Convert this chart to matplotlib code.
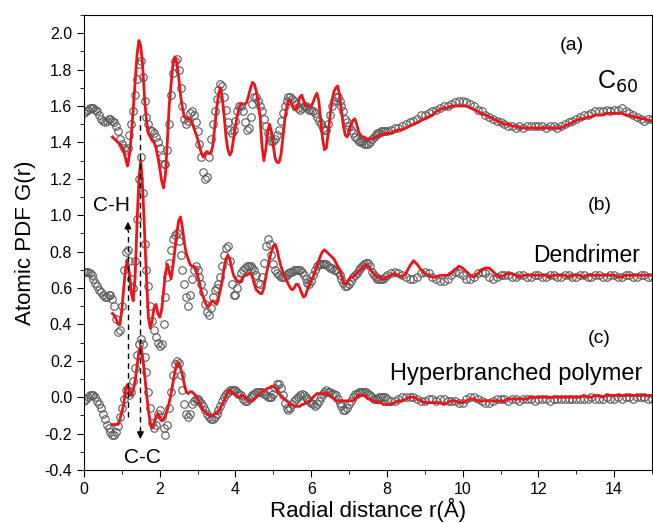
import numpy as np
import matplotlib
matplotlib.use('Agg')
import matplotlib.pyplot as plt
from matplotlib.ticker import MultipleLocator, FormatStrFormatter

plt.rcParams['font.family'] = ['Liberation Sans', 'DejaVu Sans']
plt.rcParams['axes.unicode_minus'] = False

# r grid: 0.05 A steps up to 8 A, 0.1 A steps after
r_fine = np.round(np.arange(0, 8, 0.05), 2)
r_coarse = np.round(np.arange(8, 15.01, 0.1), 1)
r = np.concatenate([r_fine, r_coarse])
r_fit = r[15:]  # fits start at r = 0.75 A

# (a) C60 - experiment
c60_exp = [
    1.56, 1.57, 1.58, 1.59, 1.59, 1.59, 1.58, 1.57, 1.55, 1.53,
    1.52, 1.51, 1.52, 1.53, 1.53, 1.52, 1.51, 1.49, 1.46, 1.42,
    1.39, 1.37, 1.36, 1.37, 1.44, 1.50, 1.57, 1.66, 1.75, 1.83,
    1.85, 1.76, 1.63, 1.54, 1.50, 1.47, 1.46, 1.45, 1.43, 1.40,
    1.37, 1.32, 1.28, 1.28, 1.36, 1.50, 1.66, 1.78, 1.85, 1.86,
    1.80, 1.70, 1.60, 1.53, 1.50, 1.52, 1.56, 1.57, 1.55, 1.51,
    1.46, 1.39, 1.32, 1.24, 1.20, 1.21, 1.32, 1.42, 1.50, 1.57,
    1.64, 1.69, 1.72, 1.71, 1.65, 1.58, 1.51, 1.47, 1.45, 1.47,
    1.52, 1.57, 1.60, 1.60, 1.57, 1.51, 1.47, 1.48, 1.54, 1.61,
    1.65, 1.65, 1.63, 1.60, 1.57, 1.53, 1.49, 1.45, 1.43, 1.41,
    1.41, 1.42, 1.44, 1.47, 1.52, 1.56, 1.60, 1.63, 1.65, 1.65,
    1.64, 1.63, 1.61, 1.59, 1.58, 1.59, 1.60, 1.60, 1.59, 1.58,
    1.58, 1.57, 1.56, 1.54, 1.52, 1.50, 1.48, 1.47, 1.47, 1.50,
    1.55, 1.60, 1.63, 1.65, 1.65, 1.63, 1.60, 1.57, 1.53, 1.51,
    1.49, 1.47, 1.45, 1.43, 1.42, 1.41, 1.40, 1.40, 1.39, 1.39,
    1.39, 1.40, 1.42, 1.43, 1.44, 1.45, 1.45, 1.46, 1.46, 1.46,
    1.46, 1.47, 1.48, 1.48, 1.49, 1.50, 1.51, 1.52, 1.53, 1.55,
    1.55, 1.56, 1.57, 1.58, 1.59, 1.60, 1.60, 1.61, 1.62, 1.63,
    1.63, 1.62, 1.61, 1.60, 1.58, 1.57, 1.55, 1.54, 1.53, 1.52,
    1.51, 1.50, 1.49, 1.49, 1.48, 1.49, 1.48, 1.49, 1.49, 1.49,
    1.49, 1.49, 1.48, 1.49, 1.49, 1.48, 1.49, 1.50, 1.51, 1.52,
    1.53, 1.54, 1.55, 1.55, 1.56, 1.57, 1.57, 1.57, 1.58, 1.57,
    1.58, 1.58, 1.59, 1.57, 1.56, 1.55, 1.54, 1.53, 1.52, 1.53,
    1.53,
]

# (a) C60 - model
c60_fit = [
    1.43, 1.42, 1.41, 1.40, 1.39,
    1.38, 1.35, 1.31, 1.27, 1.33, 1.44, 1.58, 1.73, 1.88, 1.96,
    1.93, 1.82, 1.64, 1.52, 1.45, 1.43, 1.41, 1.40, 1.37, 1.32,
    1.26, 1.19, 1.15, 1.22, 1.40, 1.60, 1.72, 1.83, 1.87, 1.84,
    1.76, 1.66, 1.59, 1.54, 1.53, 1.53, 1.53, 1.51, 1.48, 1.45,
    1.42, 1.38, 1.34, 1.32, 1.34, 1.35, 1.34, 1.34, 1.38, 1.48,
    1.58, 1.66, 1.70, 1.65, 1.55, 1.43, 1.36, 1.33, 1.35, 1.42,
    1.49, 1.55, 1.59, 1.61, 1.61, 1.61, 1.62, 1.66, 1.70, 1.73,
    1.72, 1.68, 1.62, 1.54, 1.38, 1.30, 1.36, 1.46, 1.50, 1.46,
    1.38, 1.31, 1.29, 1.29, 1.33, 1.42, 1.52, 1.59, 1.63, 1.63,
    1.60, 1.58, 1.58, 1.61, 1.65, 1.66, 1.63, 1.60, 1.60, 1.60,
    1.60, 1.62, 1.65, 1.67, 1.63, 1.52, 1.42, 1.36, 1.37, 1.45,
    1.55, 1.63, 1.68, 1.70, 1.71, 1.66, 1.57, 1.49, 1.44, 1.43,
    1.46, 1.50, 1.52, 1.53, 1.50, 1.46, 1.44, 1.43, 1.43, 1.42,
    1.42, 1.42, 1.42, 1.42, 1.43, 1.43, 1.44, 1.44, 1.44, 1.45,
    1.45, 1.45, 1.46, 1.47, 1.47, 1.48, 1.49, 1.50, 1.51, 1.52,
    1.53, 1.54, 1.55, 1.57, 1.58, 1.59, 1.59, 1.60, 1.60, 1.60,
    1.60, 1.60, 1.59, 1.58, 1.57, 1.56, 1.55, 1.54, 1.53, 1.52,
    1.51, 1.50, 1.50, 1.49, 1.49, 1.48, 1.48, 1.48, 1.48, 1.48,
    1.48, 1.48, 1.48, 1.48, 1.48, 1.48, 1.48, 1.49, 1.50, 1.51,
    1.52, 1.53, 1.53, 1.54, 1.54, 1.55, 1.55, 1.55, 1.56, 1.56,
    1.56, 1.56, 1.56, 1.55, 1.55, 1.54, 1.54, 1.53, 1.53, 1.52,
    1.52,
]

# (b) Dendrimer - experiment
dend_exp = [
    0.69, 0.69, 0.69, 0.68, 0.67, 0.65, 0.63, 0.61, 0.59, 0.58,
    0.56, 0.55, 0.55, 0.56, 0.56, 0.54, 0.50, 0.43, 0.36, 0.37,
    0.50, 0.70, 0.80, 0.81, 0.75, 0.65, 0.60, 0.75, 0.98, 1.20,
    1.32, 1.12, 0.84, 0.70, 0.61, 0.50, 0.42, 0.37, 0.33, 0.30,
    0.28, 0.29, 0.40, 0.55, 0.66, 0.74, 0.81, 0.87, 0.89, 0.90,
    0.86, 0.78, 0.70, 0.62, 0.55, 0.50, 0.56, 0.65, 0.70, 0.72,
    0.70, 0.66, 0.62, 0.58, 0.51, 0.47, 0.45, 0.49, 0.55, 0.59,
    0.60, 0.62, 0.66, 0.72, 0.78, 0.82, 0.83, 0.75, 0.62, 0.56,
    0.56, 0.60, 0.65, 0.68, 0.70, 0.71, 0.72, 0.72, 0.72, 0.71,
    0.70, 0.67, 0.63, 0.62, 0.66, 0.74, 0.83, 0.87, 0.84, 0.78,
    0.73, 0.70, 0.68, 0.67, 0.66, 0.66, 0.66, 0.67, 0.68, 0.69,
    0.69, 0.70, 0.70, 0.70, 0.70, 0.69, 0.67, 0.65, 0.63, 0.62,
    0.64, 0.67, 0.70, 0.72, 0.73, 0.73, 0.73, 0.73, 0.73, 0.72,
    0.71, 0.71, 0.70, 0.70, 0.69, 0.67, 0.65, 0.63, 0.61, 0.61,
    0.62, 0.64, 0.66, 0.67, 0.68, 0.70, 0.71, 0.72, 0.73, 0.74,
    0.74, 0.72, 0.69, 0.67, 0.66, 0.65, 0.65, 0.65, 0.65, 0.66,
    0.67, 0.68, 0.69, 0.68, 0.67, 0.66, 0.65, 0.65, 0.66, 0.68,
    0.69, 0.68, 0.66, 0.65, 0.64, 0.64, 0.65, 0.67, 0.69, 0.68,
    0.67, 0.65, 0.65, 0.66, 0.68, 0.69, 0.68, 0.66, 0.65, 0.66,
    0.67, 0.67, 0.67, 0.66, 0.66, 0.67, 0.67, 0.66, 0.66, 0.67,
    0.67, 0.66, 0.66, 0.67, 0.67, 0.66, 0.66, 0.67, 0.67, 0.66,
    0.66, 0.67, 0.67, 0.66, 0.66, 0.67, 0.67, 0.66, 0.66, 0.67,
    0.67, 0.66, 0.66, 0.67, 0.67, 0.66, 0.66, 0.67, 0.67, 0.66,
    0.66,
]

# (b) Dendrimer - model
dend_fit = [
    0.46, 0.45, 0.43, 0.40, 0.40,
    0.48, 0.60, 0.71, 0.75, 0.68, 0.57, 0.53, 0.66, 0.95, 1.20,
    1.30, 1.15, 0.90, 0.66, 0.44, 0.38, 0.42, 0.49, 0.51, 0.46,
    0.44, 0.48, 0.58, 0.68, 0.73, 0.69, 0.65, 0.72, 0.81, 0.90,
    0.97, 0.99, 0.93, 0.85, 0.79, 0.76, 0.73, 0.72, 0.72, 0.71,
    0.67, 0.63, 0.58, 0.55, 0.52, 0.50, 0.50, 0.52, 0.53, 0.52,
    0.51, 0.54, 0.59, 0.64, 0.71, 0.76, 0.78, 0.76, 0.71, 0.67,
    0.65, 0.64, 0.63, 0.64, 0.66, 0.67, 0.67, 0.68, 0.68, 0.66,
    0.62, 0.59, 0.58, 0.57, 0.57, 0.60, 0.66, 0.71, 0.76, 0.80,
    0.83, 0.84, 0.81, 0.76, 0.72, 0.69, 0.66, 0.64, 0.62, 0.60,
    0.59, 0.60, 0.62, 0.62, 0.60, 0.57, 0.55, 0.56, 0.59, 0.62,
    0.64, 0.66, 0.69, 0.72, 0.75, 0.78, 0.80, 0.81, 0.80, 0.79,
    0.78, 0.77, 0.76, 0.74, 0.72, 0.70, 0.67, 0.63, 0.62, 0.63,
    0.65, 0.66, 0.66, 0.67, 0.68, 0.69, 0.70, 0.71, 0.72, 0.73,
    0.72, 0.71, 0.69, 0.68, 0.67, 0.66, 0.66, 0.65, 0.65, 0.65,
    0.66, 0.67, 0.68, 0.67, 0.66, 0.68, 0.72, 0.75, 0.73, 0.70,
    0.68, 0.67, 0.66, 0.66, 0.67, 0.67, 0.67, 0.68, 0.70, 0.72,
    0.71, 0.69, 0.67, 0.66, 0.68, 0.70, 0.71, 0.71, 0.69, 0.67,
    0.66, 0.67, 0.68, 0.68, 0.67, 0.66, 0.67, 0.67, 0.67, 0.67,
    0.67, 0.67, 0.67, 0.66, 0.67, 0.67, 0.67, 0.67, 0.66, 0.67,
    0.67, 0.67, 0.66, 0.67, 0.67, 0.67, 0.67, 0.67, 0.67, 0.67,
    0.67, 0.66, 0.66, 0.67, 0.67, 0.67, 0.67, 0.67, 0.67, 0.67,
    0.67,
]

# (c) Hyperbranched polymer - experiment
hyper_exp = [
    -0.02, -0.01, 0.00, 0.01, 0.01, 0.01, 0.00, -0.02, -0.04, -0.06,
    -0.09, -0.12, -0.15, -0.17, -0.19, -0.21, -0.21, -0.19, -0.16, -0.11,
    -0.06, -0.01, 0.04, 0.04, 0.01, 0.03, 0.09, 0.16, 0.23, 0.29,
    0.32, 0.29, 0.22, 0.14, 0.03, -0.06, -0.14, -0.17, -0.15, -0.09,
    -0.07, -0.11, -0.17, -0.21, -0.15, -0.06, 0.03, 0.12, 0.18, 0.20,
    0.19, 0.12, 0.04, -0.04, -0.09, -0.11, -0.09, -0.04, -0.02, -0.01,
    -0.01, -0.02, -0.03, -0.05, -0.07, -0.09, -0.11, -0.12, -0.12, -0.11,
    -0.09, -0.07, -0.05, -0.02, 0.00, 0.02, 0.03, 0.04, 0.04, 0.04,
    0.04, 0.03, 0.02, 0.01, -0.01, -0.02, -0.02, -0.01, 0.00, 0.01,
    0.02, 0.03, 0.03, 0.03, 0.03, 0.02, 0.01, 0.00, 0.00, 0.00,
    0.02, 0.05, 0.07, 0.07, 0.05, 0.01, -0.03, -0.06, -0.07, -0.06,
    -0.04, -0.02, -0.01, 0.00, 0.01, 0.02, 0.01, 0.00, -0.01, -0.02,
    -0.03, -0.04, -0.05, -0.04, -0.02, 0.00, 0.02, 0.03, 0.04, 0.03,
    0.03, 0.02, 0.02, 0.01, -0.01, -0.03, -0.05, -0.07, -0.07, -0.06,
    -0.04, -0.02, 0.00, 0.02, 0.02, 0.03, 0.03, 0.03, 0.03, 0.03,
    0.02, 0.01, 0.00, -0.01, -0.01, -0.01, 0.00, 0.00, 0.00, 0.00,
    -0.01, -0.02, -0.02, -0.01, 0.00, 0.00, 0.00, 0.00, -0.01, -0.02,
    -0.02, -0.01, -0.01, -0.02, -0.01, -0.01, -0.02, -0.02, -0.02, -0.03,
    -0.03, -0.01, 0.00, 0.00, -0.01, -0.02, -0.03, -0.03, -0.02, -0.01,
    -0.01, -0.01, -0.02, -0.01, -0.01, -0.02, -0.01, -0.01, -0.01, -0.02,
    -0.01, -0.01, -0.01, -0.02, -0.01, -0.01, -0.01, -0.01, -0.01, -0.01,
    -0.01, -0.01, -0.01, -0.01, 0.00, -0.01, -0.01, -0.01, 0.00, -0.01,
    -0.01, 0.00, -0.01, 0.00, 0.00, -0.01, 0.00, 0.00, 0.00, -0.01,
    -0.01,
]

# (c) Hyperbranched polymer - model
hyper_fit = [
    -0.15, -0.15, -0.15, -0.15, -0.12,
    -0.08, -0.04, 0.05, 0.07, 0.03, 0.01, 0.04, 0.09, 0.17, 0.25,
    0.28, 0.22, 0.13, 0.02, -0.07, -0.14, -0.17, -0.14, -0.11, -0.09,
    -0.11, -0.13, -0.12, -0.10, -0.07, -0.03, 0.02, 0.08, 0.14, 0.18,
    0.19, 0.16, 0.12, 0.07, 0.03, 0.02, 0.03, 0.03, 0.02, 0.01,
    -0.01, -0.03, -0.05, -0.07, -0.08, -0.09, -0.10, -0.10, -0.10, -0.09,
    -0.09, -0.08, -0.06, -0.04, -0.02, 0.01, 0.03, 0.04, 0.03, 0.02,
    0.01, 0.00, 0.00, 0.01, 0.01, 0.00, -0.01, -0.02, -0.02, -0.02,
    -0.01, 0.00, 0.01, 0.02, 0.03, 0.04, 0.04, 0.05, 0.05, 0.06,
    0.06, 0.05, 0.04, 0.02, 0.01, 0.00, -0.01, -0.02, -0.03, -0.04,
    -0.04, -0.05, -0.05, -0.05, -0.05, -0.04, -0.04, -0.03, -0.03, -0.02,
    -0.01, 0.00, 0.01, 0.02, 0.02, 0.02, 0.02, 0.02, 0.02, 0.02,
    0.01, 0.00, -0.01, -0.02, -0.02, -0.02, -0.02, -0.02, -0.02, -0.02,
    -0.02, -0.02, -0.02, -0.01, 0.00, 0.01, 0.01, 0.01, 0.01, 0.00,
    -0.01, -0.01, -0.02, -0.02, -0.02, -0.03, -0.03, -0.03, -0.04, -0.04,
    -0.04, -0.04, -0.03, -0.02, -0.02, -0.01, 0.00, 0.00, -0.01, -0.02,
    -0.03, -0.03, -0.03, -0.03, -0.03, -0.04, -0.03, -0.02, -0.02, -0.03,
    -0.03, -0.02, -0.01, -0.01, -0.02, -0.02, -0.02, -0.02, -0.02, -0.02,
    -0.02, -0.02, -0.01, -0.01, -0.01, -0.01, -0.01, -0.01, 0.00, 0.00,
    0.00, 0.00, 0.00, 0.00, 0.00, 0.00, 0.00, 0.00, 0.00, 0.00,
    0.00, 0.00, 0.01, 0.00, 0.00, 0.01, 0.01, 0.00, 0.01, 0.01,
    0.01, 0.01, 0.01, 0.01, 0.01, 0.01, 0.01, 0.01, 0.01, 0.01,
    0.01,
]

fig = plt.figure(figsize=(6.53, 5.23), dpi=100)
ax = fig.add_axes([0.1286, 0.1013, 0.8699, 0.870])

circ = dict(ls='none', marker='o', ms=5.4, mfc='none', mec='#5a5a5a', mew=0.8)
for exp in [c60_exp, dend_exp, hyper_exp]:
    ax.plot(r, exp, **circ)
for fit in [c60_fit, dend_fit, hyper_fit]:
    ax.plot(r_fit, fit, color='#e8151b', lw=2.0, zorder=3)

# bond markers
ax.plot([1.16, 1.16], [-0.11, 0.92], ls=(0, (4, 3)), color='k', lw=1.0, zorder=4)
ax.annotate('', xy=(1.16, 0.98), xytext=(1.16, 0.90),
            arrowprops=dict(arrowstyle='-|>', color='k', lw=1.0, mutation_scale=10))
ax.plot([1.49, 1.49], [1.55, -0.18], ls=(0, (4, 3)), color='k', lw=1.0, zorder=4)
ax.annotate('', xy=(1.49, -0.245), xytext=(1.49, -0.16),
            arrowprops=dict(arrowstyle='-|>', color='k', lw=1.0, mutation_scale=10))
ax.text(0.74, 1.055, 'C-H', fontsize=15, ha='center', va='center')
ax.text(1.55, -0.33, 'C-C', fontsize=15, ha='center', va='center')

# panel labels
ax.text(12.88, 1.93, '(a)', fontsize=14, ha='center', va='center')
ax.text(13.54, 1.73, 'C$_{60}$', fontsize=18, ha='left', va='center')
ax.text(13.61, 1.055, '(b)', fontsize=14, ha='center', va='center')
ax.text(13.28, 0.78, 'Dendrimer', fontsize=16.5, ha='center', va='center')
ax.text(13.61, 0.32, '(c)', fontsize=14, ha='center', va='center')
ax.text(11.40, 0.13, 'Hyperbranched polymer', fontsize=17, ha='center', va='center')

ax.set_xlim(0, 15)
ax.set_ylim(-0.4, 2.1)
ax.xaxis.set_major_locator(MultipleLocator(2))
ax.xaxis.set_minor_locator(MultipleLocator(1))
ax.yaxis.set_major_locator(MultipleLocator(0.2))
ax.yaxis.set_minor_locator(MultipleLocator(0.1))
ax.yaxis.set_major_formatter(FormatStrFormatter('%.1f'))
ax.tick_params(which='both', direction='out', top=False, right=False, labelsize=11.5)
ax.tick_params(which='major', length=5)
ax.tick_params(which='minor', length=3)

ax.set_xlabel('Radial distance r(Å)', fontsize=16, labelpad=1)
ax.set_ylabel('Atomic PDF G(r)', fontsize=16, labelpad=6)

plt.savefig('out.png', dpi=100)
